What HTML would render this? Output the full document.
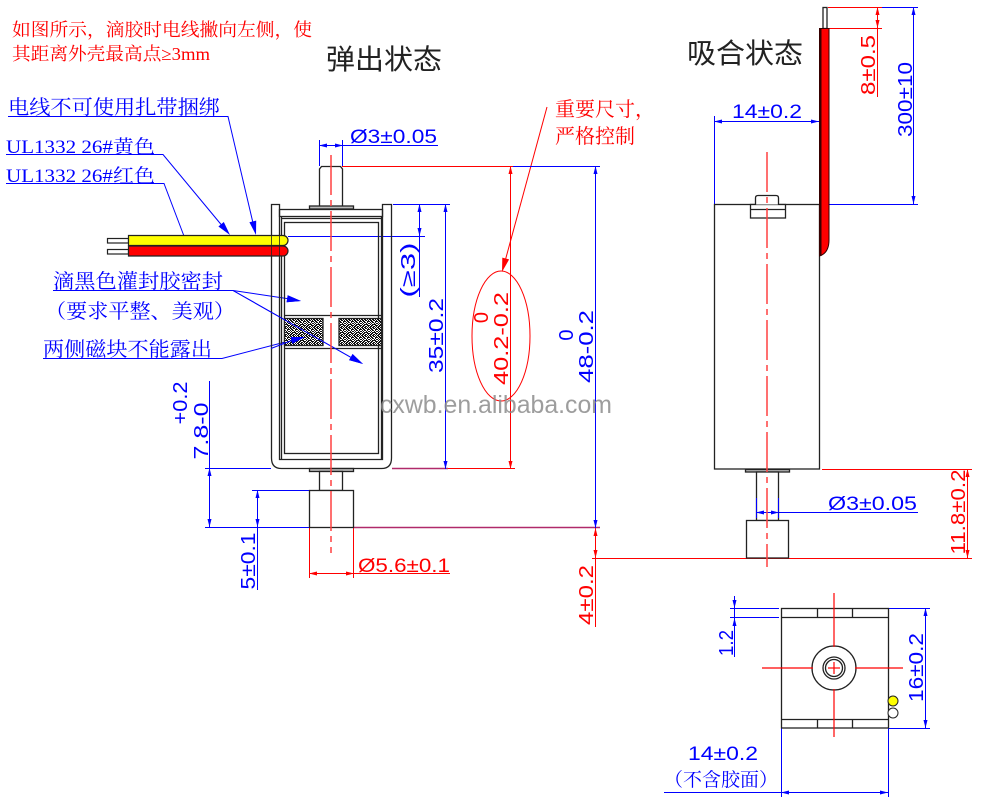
<!DOCTYPE html>
<html><head><meta charset="utf-8"><style>
html,body{margin:0;padding:0;background:#fff;}
svg{display:block;}
.cj{font-family:"Liberation Serif","Noto Serif CJK SC",serif;}
.dm{font-family:"Liberation Sans",sans-serif;font-size:20px;}
.tt{font-family:"Liberation Sans","Noto Sans CJK SC",sans-serif;}
</style></head><body>
<svg width="988" height="802" viewBox="0 0 988 802" xmlns="http://www.w3.org/2000/svg">
<defs>
<pattern id="noise" width="8" height="8" patternUnits="userSpaceOnUse">
<rect width="8" height="8" fill="#111"/>
<g fill="#fff">
<rect x="1" y="0" width="1" height="1"/><rect x="4" y="0" width="1" height="1"/><rect x="7" y="0" width="1" height="1"/>
<rect x="2" y="1" width="1" height="1"/><rect x="5" y="1" width="1" height="1"/><rect x="6" y="1" width="1" height="1"/>
<rect x="0" y="2" width="1" height="1"/><rect x="1" y="2" width="1" height="1"/><rect x="3" y="2" width="1" height="1"/><rect x="6" y="2" width="1" height="1"/>
<rect x="2" y="3" width="1" height="1"/><rect x="4" y="3" width="1" height="1"/><rect x="5" y="3" width="1" height="1"/><rect x="7" y="3" width="1" height="1"/>
<rect x="0" y="4" width="1" height="1"/><rect x="1" y="4" width="1" height="1"/><rect x="3" y="4" width="1" height="1"/>
<rect x="2" y="5" width="1" height="1"/><rect x="5" y="5" width="1" height="1"/><rect x="6" y="5" width="1" height="1"/>
<rect x="1" y="6" width="1" height="1"/><rect x="4" y="6" width="1" height="1"/><rect x="7" y="6" width="1" height="1"/>
<rect x="0" y="7" width="1" height="1"/><rect x="3" y="7" width="1" height="1"/><rect x="6" y="7" width="1" height="1"/>
</g>
</pattern>
</defs>

<!-- ===== Top-left red notes ===== -->
<text class="cj" x="12" y="36" font-size="18" fill="#ff0000" textLength="300" lengthAdjust="spacingAndGlyphs">如图所示，滴胶时电线撇向左侧，使</text>
<text class="cj" x="12" y="60" font-size="18" fill="#ff0000" textLength="198" lengthAdjust="spacingAndGlyphs">其距离外壳最高点≥3mm</text>

<!-- ===== Titles ===== -->
<text class="tt" x="326" y="69" font-size="28" fill="#222" textLength="116" lengthAdjust="spacingAndGlyphs">弹出状态</text>
<text class="tt" x="687" y="63" font-size="28" fill="#222" textLength="116" lengthAdjust="spacingAndGlyphs">吸合状态</text>

<!-- ===== Blue labels ===== -->
<g fill="#0000ff">
<text class="cj" x="8" y="114" font-size="20" textLength="212" lengthAdjust="spacingAndGlyphs">电线不可使用扎带捆绑</text>
<text class="cj" x="6" y="153" font-size="19" textLength="149" lengthAdjust="spacingAndGlyphs">UL1332 26#黄色</text>
<text class="cj" x="6" y="182" font-size="19" textLength="149" lengthAdjust="spacingAndGlyphs">UL1332 26#红色</text>
<text class="cj" x="53" y="288" font-size="20" textLength="170" lengthAdjust="spacingAndGlyphs">滴黑色灌封胶密封</text>
<text class="cj" x="45" y="318" font-size="20" textLength="190" lengthAdjust="spacingAndGlyphs">（要求平整、美观）</text>
<text class="cj" x="43" y="356" font-size="20" textLength="169" lengthAdjust="spacingAndGlyphs">两侧磁块不能露出</text>
<text class="cj" x="664" y="786" font-size="19" textLength="114" lengthAdjust="spacingAndGlyphs">（不含胶面）</text>
</g>
<text class="cj" x="555" y="116" font-size="20" fill="#ff0000" textLength="100" lengthAdjust="spacingAndGlyphs">重要尺寸，</text>
<text class="cj" x="555" y="143" font-size="20" fill="#ff0000" textLength="80" lengthAdjust="spacingAndGlyphs">严格控制</text>

<!-- ===== Red lines ===== -->
<g stroke="#ff0000" stroke-width="1" fill="none">
<line x1="342" y1="166.5" x2="513" y2="166.5"/>
<line x1="510.5" y1="166" x2="510.5" y2="469"/>
<line x1="392" y1="468.5" x2="515" y2="468.5"/>
<line x1="309.5" y1="527" x2="309.5" y2="578"/>
<line x1="353.5" y1="527" x2="353.5" y2="578"/>
<line x1="309" y1="573.5" x2="450" y2="573.5"/>
<line x1="595.5" y1="528" x2="595.5" y2="627"/>
<line x1="592" y1="558.5" x2="972" y2="558.5"/>
<line x1="822" y1="469.5" x2="972" y2="469.5"/>
<line x1="967.5" y1="469" x2="967.5" y2="558"/>
<line x1="828" y1="7.5" x2="882" y2="7.5"/>
<line x1="829" y1="28.5" x2="882" y2="28.5"/>
<line x1="877.5" y1="7" x2="877.5" y2="97"/>
<line x1="547" y1="107" x2="504" y2="265"/>
<ellipse cx="501" cy="336" rx="29" ry="65"/>
</g>
<g stroke="#b02a6a" stroke-width="1.4">
<line x1="392" y1="468.5" x2="448" y2="468.5"/>
<line x1="353" y1="527.5" x2="600" y2="527.5"/>
</g>

<!-- ===== Blue lines ===== -->
<g stroke="#0000ff" stroke-width="1" fill="none">
<polyline points="8,116.5 228,116.5 253,223"/>
<polyline points="6,154.5 163,154.5 224,228"/>
<polyline points="6,183.5 164,183.5 187,244"/>
<polyline points="53,290.5 233,290.5 290,299"/>
<polyline points="233,290.5 352,358"/>
<polyline points="43,358.5 222,358.5 293,340"/>
<line x1="319.5" y1="140" x2="319.5" y2="166"/>
<line x1="342.5" y1="140" x2="342.5" y2="166"/>
<line x1="319" y1="145.5" x2="438" y2="145.5"/>
<line x1="513" y1="166.5" x2="600" y2="166.5"/>
<line x1="595.5" y1="166" x2="595.5" y2="528"/>
<line x1="393" y1="204.5" x2="450" y2="204.5"/>
<line x1="445.5" y1="204" x2="445.5" y2="469"/>
<line x1="419.5" y1="204" x2="419.5" y2="297"/>
<line x1="288" y1="236.5" x2="425" y2="236.5"/>
<line x1="209.5" y1="381" x2="209.5" y2="527"/>
<line x1="205" y1="468.5" x2="271" y2="468.5"/>
<line x1="205" y1="527.5" x2="309" y2="527.5"/>
<line x1="252" y1="490.5" x2="309" y2="490.5"/>
<line x1="257.5" y1="490" x2="257.5" y2="590"/>
<line x1="714" y1="121.5" x2="819" y2="121.5"/>
<line x1="714.5" y1="116" x2="714.5" y2="204"/>
<line x1="913.5" y1="7" x2="913.5" y2="204"/>
<line x1="882" y1="7.5" x2="918" y2="7.5"/>
<line x1="829" y1="204.5" x2="918" y2="204.5"/>
<line x1="756.5" y1="498" x2="756.5" y2="518"/>
<line x1="778.5" y1="498" x2="778.5" y2="518"/>
<line x1="756" y1="512.5" x2="918" y2="512.5"/>
<line x1="730" y1="608.5" x2="779" y2="608.5"/>
<line x1="730" y1="617.5" x2="779" y2="617.5"/>
<line x1="734.5" y1="596" x2="734.5" y2="657"/>
<line x1="888" y1="608.5" x2="930" y2="608.5"/>
<line x1="888" y1="728.5" x2="930" y2="728.5"/>
<line x1="925.5" y1="608" x2="925.5" y2="728"/>
<line x1="781.5" y1="728" x2="781.5" y2="797"/>
<line x1="888.5" y1="728" x2="888.5" y2="797"/>
<line x1="664" y1="792.5" x2="888" y2="792.5"/>
</g>

<!-- ===== Arrowheads ===== -->
<g fill="#0000ff">
<polygon points="249.4,222.2 256,235 256.2,220.6"/>
<polygon points="218.4,226.5 230,235 223.8,222"/>
<polygon points="181.8,240.1 190,252 188.3,237.7"/>
<polygon points="286.6,302.2 301,301 287.7,295.3"/>
<polygon points="349.1,360.1 363,364 352.6,354"/>
<polygon points="292.3,343.8 305,337 290.6,337"/>
<polygon points="319,145.5 327,143.5 327,147.5"/>
<polygon points="343,145.5 335,143.5 335,147.5"/>
<polygon points="595.5,166 593.5,174 597.5,174"/>
<polygon points="595.5,528 593.5,520 597.5,520"/>
<polygon points="445.5,204 443.5,212 447.5,212"/>
<polygon points="445.5,469 443.5,461 447.5,461"/>
<polygon points="419.5,204 417.5,212 421.5,212"/>
<polygon points="419.5,236 417.5,228 421.5,228"/>
<polygon points="209.5,468 207.5,476 211.5,476"/>
<polygon points="209.5,527 207.5,519 211.5,519"/>
<polygon points="257.5,490 255.5,498 259.5,498"/>
<polygon points="257.5,527 255.5,519 259.5,519"/>
<polygon points="714,121.5 722,119.5 722,123.5"/>
<polygon points="819,121.5 811,119.5 811,123.5"/>
<polygon points="913.5,7 911.5,15 915.5,15"/>
<polygon points="913.5,204 911.5,196 915.5,196"/>
<polygon points="756,512.5 764,510.5 764,514.5"/>
<polygon points="779,512.5 771,510.5 771,514.5"/>
<polygon points="734.5,608 732.5,600 736.5,600"/>
<polygon points="734.5,618 732.5,626 736.5,626"/>
<polygon points="925.5,608 923.5,616 927.5,616"/>
<polygon points="925.5,728 923.5,720 927.5,720"/>
<polygon points="781,792.5 789,790.5 789,794.5"/>
<polygon points="888,792.5 880,790.5 880,794.5"/>
</g>
<g fill="#ff0000">
<polygon points="502.3,257.6 502,272 509.1,259.4"/>
<polygon points="510.5,166 508.5,174 512.5,174"/>
<polygon points="510.5,469 508.5,461 512.5,461"/>
<polygon points="309,573.5 317,571.5 317,575.5"/>
<polygon points="354,573.5 346,571.5 346,575.5"/>
<polygon points="595.5,528 593.5,536 597.5,536"/>
<polygon points="595.5,558 593.5,550 597.5,550"/>
<polygon points="967.5,469 965.5,477 969.5,477"/>
<polygon points="967.5,558 965.5,550 969.5,550"/>
<polygon points="877.5,7 875.5,15 879.5,15"/>
<polygon points="877.5,28 875.5,20 879.5,20"/>
</g>

<!-- ===== Left view (弹出状态) ===== -->
<g stroke="#222" stroke-width="1.3" fill="#fff">
<path d="M319.5,207 V169 L321.5,166.5 H340.5 L342.5,169 V207 Z"/>
<rect x="309.5" y="206" width="44" height="3" fill="#bbb"/>
<path d="M271.5,204.5 H279.5 V459.5 H382.5 V204.5 H391.5 V458 Q391.5,468.5 381.5,468.5 H281.5 Q271.5,468.5 271.5,458 Z" fill="none"/>
<rect x="279.5" y="209.5" width="103" height="7" fill="none"/>
<line x1="281.5" y1="218.5" x2="381.5" y2="218.5"/>
<line x1="281.5" y1="216.5" x2="281.5" y2="459.5"/>
<line x1="381.5" y1="216.5" x2="381.5" y2="459.5"/>
<rect x="284.5" y="222.5" width="94" height="231" fill="none"/>
<line x1="284.5" y1="315.5" x2="381.5" y2="315.5"/>
<line x1="284.5" y1="348.5" x2="381.5" y2="348.5"/>
<rect x="284.5" y="318.5" width="38.5" height="27" fill="url(#noise)"/>
<rect x="339" y="318.5" width="42.5" height="27" fill="url(#noise)"/>
<rect x="309.5" y="468.5" width="44" height="3" fill="#bbb"/>
<rect x="319.5" y="471.5" width="23" height="19"/>
<rect x="309.5" y="490.5" width="44" height="37"/>
</g>
<!-- wires -->
<g stroke="#222" stroke-width="1.2">
<rect x="107.5" y="238.5" width="21" height="4.5" fill="#fff"/>
<rect x="107.5" y="249.5" width="21" height="4.5" fill="#fff"/>
<path d="M128.5,235.5 H283 A5,5 0 0 1 283,245.5 H128.5 Z" fill="#ffff00"/>
<path d="M128.5,246 H283 A5,5 0 0 1 283,256 H128.5 Z" fill="#ff0000"/>
</g>
<g stroke="#222" stroke-width="0.8">
<line x1="271.5" y1="235.5" x2="271.5" y2="256"/>
<line x1="279.5" y1="235.5" x2="279.5" y2="256"/>
</g>
<!-- re-draw the two leader arrows passing over the magnet -->
<g fill="#0000ff">
<polygon points="286.6,302.2 301,301 287.7,295.3"/>
<polygon points="349.1,360.1 363,364 352.6,354"/>
<polygon points="292.3,343.8 305,337 290.6,337"/>
</g>
<g stroke="#0000ff" stroke-width="1">
<line x1="233" y1="290.5" x2="352" y2="358"/>
<line x1="271" y1="348.5" x2="293" y2="340"/>
</g>

<!-- ===== Right view (吸合状态) ===== -->
<g stroke="#222" stroke-width="1.3" fill="#fff">
<rect x="714.5" y="204.5" width="105" height="264.5"/>
<rect x="750.5" y="204.5" width="35" height="13.5"/>
<line x1="750.5" y1="209.5" x2="785.5" y2="209.5"/>
<path d="M755.5,204.5 V198 Q755.5,195.5 758,195.5 H776 Q778.5,195.5 778.5,198 V204.5"/>
<rect x="823" y="7.5" width="4" height="21"/>
<path d="M819.5,28.5 H829 V240 Q829,253 819.5,256 Z" fill="#ff0000" stroke="#300" stroke-width="1"/>
<rect x="745.5" y="469.5" width="44" height="2.5" fill="#bbb"/>
<rect x="756.5" y="472" width="22" height="48.5"/>
<rect x="746.5" y="520.5" width="42" height="37.5"/>
</g>
<line x1="820.5" y1="28" x2="820.5" y2="256" stroke="#3a0000" stroke-width="2"/>
<!-- redraw blue/red dims over right plunger -->
<g stroke="#0000ff" stroke-width="1">
<line x1="756.5" y1="498" x2="756.5" y2="518"/>
<line x1="778.5" y1="498" x2="778.5" y2="518"/>
<line x1="756" y1="512.5" x2="779" y2="512.5"/>
</g>
<g fill="#0000ff">
<polygon points="756,512.5 764,510.5 764,514.5"/>
<polygon points="779,512.5 771,510.5 771,514.5"/>
</g>

<!-- ===== Bottom view ===== -->
<g stroke="#222" stroke-width="1.3" fill="none">
<rect x="781.5" y="608.5" width="107" height="119.5" fill="#fff"/>
<line x1="781.5" y1="617.5" x2="888.5" y2="617.5"/>
<line x1="781.5" y1="719.5" x2="888.5" y2="719.5"/>
<line x1="817.5" y1="608.5" x2="817.5" y2="617.5"/>
<line x1="852.5" y1="608.5" x2="852.5" y2="617.5"/>
<line x1="817.5" y1="719.5" x2="817.5" y2="728"/>
<line x1="852.5" y1="719.5" x2="852.5" y2="728"/>
<circle cx="834" cy="668" r="22"/>
<circle cx="834" cy="668" r="11"/>
<circle cx="834" cy="668" r="8.5"/>
</g>
<g stroke="#ff0000" stroke-width="1.2">
<line x1="762" y1="668" x2="813" y2="668"/>
<line x1="828" y1="668" x2="840" y2="668"/>
<line x1="855" y1="668" x2="903" y2="668"/>
<line x1="834" y1="593" x2="834" y2="647"/>
<line x1="834" y1="662" x2="834" y2="674"/>
<line x1="834" y1="689" x2="834" y2="737"/>
</g>
<circle cx="893" cy="701" r="5" fill="#ffff00" stroke="#222" stroke-width="1"/>
<circle cx="893" cy="713" r="5" fill="#fff" stroke="#222" stroke-width="1"/>

<!-- ===== Center lines ===== -->
<g stroke="#ff4040" stroke-width="1.5" stroke-dasharray="40 5 6 5">
<line x1="331" y1="155" x2="331" y2="553"/>
<line x1="767" y1="152" x2="767" y2="567"/>
</g>

<!-- ===== Dimension texts ===== -->
<g class="dm" fill="#0000ff">
<text x="350" y="143" font-size="19" textLength="87" lengthAdjust="spacingAndGlyphs">Ø3±0.05</text>
<text x="828" y="510" font-size="19" textLength="89" lengthAdjust="spacingAndGlyphs">Ø3±0.05</text>
<text x="732" y="118" font-size="19" textLength="70" lengthAdjust="spacingAndGlyphs">14±0.2</text>
<text x="688" y="760" font-size="19" textLength="70" lengthAdjust="spacingAndGlyphs">14±0.2</text>
<text transform="translate(208,431) rotate(-90)" text-anchor="middle" textLength="57" lengthAdjust="spacingAndGlyphs">7.8-0</text>
<text transform="translate(187,403) rotate(-90)" text-anchor="middle" textLength="43" lengthAdjust="spacingAndGlyphs">+0.2</text>
<text transform="translate(255,561) rotate(-90)" text-anchor="middle" textLength="57" lengthAdjust="spacingAndGlyphs">5±0.1</text>
<text transform="translate(415,270) rotate(-90)" text-anchor="middle" textLength="55" lengthAdjust="spacingAndGlyphs">(≥3)</text>
<text transform="translate(443,335.5) rotate(-90)" text-anchor="middle" textLength="75" lengthAdjust="spacingAndGlyphs">35±0.2</text>
<text transform="translate(593,346.5) rotate(-90)" text-anchor="middle" textLength="73" lengthAdjust="spacingAndGlyphs">48-0.2</text>
<text transform="translate(573,335) rotate(-90)" text-anchor="middle">0</text>
<text transform="translate(912,99.5) rotate(-90)" text-anchor="middle" textLength="75" lengthAdjust="spacingAndGlyphs">300±10</text>
<text transform="translate(733,643) rotate(-90)" text-anchor="middle" textLength="26" lengthAdjust="spacingAndGlyphs">1.2</text>
<text transform="translate(923,667.5) rotate(-90)" text-anchor="middle" textLength="69" lengthAdjust="spacingAndGlyphs">16±0.2</text>
</g>
<g class="dm" fill="#ff0000">
<text x="358" y="572" font-size="19" textLength="92" lengthAdjust="spacingAndGlyphs">Ø5.6±0.1</text>
<text transform="translate(508,338.5) rotate(-90)" text-anchor="middle" textLength="93" lengthAdjust="spacingAndGlyphs">40.2-0.2</text>
<text transform="translate(488,317.5) rotate(-90)" text-anchor="middle">0</text>
<text transform="translate(875,65) rotate(-90)" text-anchor="middle" textLength="60" lengthAdjust="spacingAndGlyphs">8±0.5</text>
<text transform="translate(965,512) rotate(-90)" text-anchor="middle" textLength="85" lengthAdjust="spacingAndGlyphs">11.8±0.2</text>
<text transform="translate(593,595) rotate(-90)" text-anchor="middle" textLength="60" lengthAdjust="spacingAndGlyphs">4±0.2</text>
</g>

<!-- ===== Watermark ===== -->
<text x="380" y="413" font-family="'Liberation Sans',sans-serif" font-size="25" fill="#8c8c8c" fill-opacity="0.85" textLength="232" lengthAdjust="spacingAndGlyphs">cxwb.en.alibaba.com</text>
</svg>
</body></html>
